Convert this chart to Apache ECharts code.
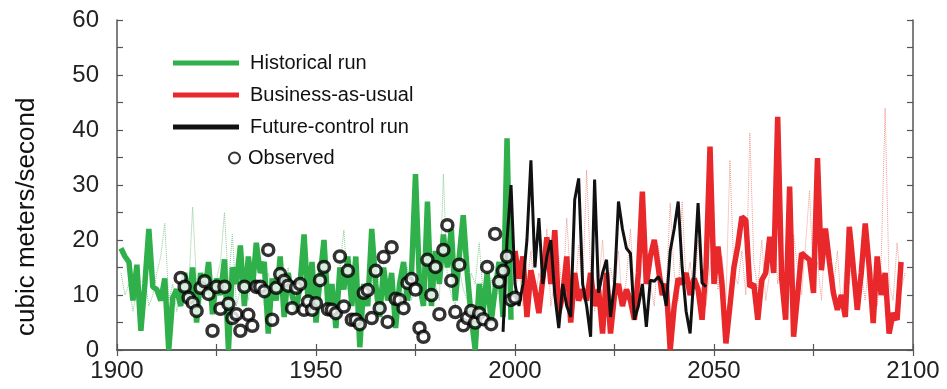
<!DOCTYPE html>
<html>
<head>
<meta charset="utf-8">
<script src="https://cdn.jsdelivr.net/npm/echarts@6/dist/echarts.min.js"></script>
<style>
  html, body { margin: 0; background: #fff; }
  #chart { width: 947px; height: 389px; }
</style>
</head>
<body>
<div id="chart"></div>
<script>
// historical run, one value a year from 1901
const histStart = 1901;
const histRun = [18.5, 17, 16, 9, 15.5, 3.5, 12, 22, 11.5, 11, 9, 13, 0, 9.5, 11, 8, 14, 9, 15, 5,
  14, 10, 16, 6.5, 13, 10, 16.5, 0, 15, 12, 19, 8, 17, 11, 19.5, 14, 16, 3, 13, 9,
  17, 6, 14, 10, 7, 12, 21, 9, 16, 5, 13, 20, 8, 12, 4, 15, 11, 17, 8, 17,
  0.5, 12, 8, 22, 12, 6, 15, 9, 14, 4, 12, 16, 9, 14, 32, 12, 8, 27, 8, 18,
  12, 21, 15, 22, 9, 17, 24.5, 14, 6, 0, 12, 7, 14, 5, 11, 16, 6, 38.5, 5.5];
// second historical member (thin dotted)
const histRun2 = [14, 10, 12, 7, 11, 9, 13, 8, 10, 14, 17, 23, 9, 12, 7, 10, 13, 11, 26, 12,
  8, 14, 10, 9, 13, 16, 25, 12, 21, 8, 11, 13, 9, 15, 10, 12, 8, 14, 11, 9,
  13, 10, 15, 8, 12, 9, 16, 11, 7, 13, 10, 14, 9, 12, 8, 15, 21.8, 11, 9, 13,
  7, 12, 10, 14, 8, 16, 11, 9, 13, 7, 12, 10, 15, 9, 13, 11, 8, 14, 10, 12,
  9, 32, 13, 10, 8, 15, 11, 9, 14, 12, 19.5, 10, 8, 13, 9, 11, 15, 10, 8];

// business-as-usual, from 2000
const bauStart = 2000;
const bauRun = [18, 13, 17, 6, 14.5, 11, 6.7, 13, 20.5, 12, 21.8, 6.7, 10, 17, 5, 14, 9, 11, 9, 14,
  8, 11, 3, 14, 3, 10, 12, 8, 11, 9, 5.5, 14, 28.8, 12, 17, 20, 15, 10, 12, 0,
  8, 13, 12, 14, 10, 13, 11, 5.5, 15, 37, 12, 18.8, 12, 1.2, 8, 15, 19, 24.2, 23.6, 11.5,
  12, 5.5, 12.7, 14, 20.6, 14, 42.4, 13, 5.5, 29.7, 2.4, 10, 17.6, 17, 16.4, 10.4, 34.9, 14.5, 22.1, 16,
  10.4, 7.3, 10, 6, 22.4, 15, 7.3, 14, 23, 15, 4.9, 17, 10, 14, 3, 6.7, 5.5, 16];
const bauRun2 = [10, 15, 8, 12, 18, 9, 14, 11, 22, 8, 13, 17, 10, 24, 12, 9, 19, 11, 32.7, 14,
  7, 12, 20, 9, 15, 11, 18, 8, 13, 22, 10, 14, 9, 16, 12, 8, 19, 13, 11, 26.7,
  14, 9, 27, 12, 16, 10, 20, 13, 8, 15, 22, 11, 17, 9, 34.5, 14, 12, 18, 10, 39.5,
  16, 11, 20, 9, 14, 24, 12, 17, 8, 13, 21, 15, 10, 19, 29, 12, 16, 9, 22, 14,
  11, 18, 8, 15, 12, 20, 10, 14, 9, 17, 13, 8, 16, 44, 12, 9, 19.5, 11, 14];

// future-control run, from 1997
const ctrlStart = 1997;
const ctrlRun = [3.3, 20, 30, 12, 8, 12, 20, 34.5, 15, 24, 12, 17, 20, 10, 4, 12, 8, 6, 27.3, 31.2,
  12, 8, 2.4, 31, 10.4, 14, 16.4, 6, 12, 27, 22, 18.5, 17.6, 5.5, 8, 12, 4.2, 12.7, 12.5, 13.3,
  12, 8, 18, 22, 27, 15, 7, 3, 14, 26.7, 12.2, 11.5];

// observed, from 1916
const obsStart = 1916;
const observed = [13.1, 11.5, 9.5, 8.6, 7.1, 11.3, 12.5, 10.2, 3.5, 11.5, 7.5, 11.5, 8.4, 5.8, 6.5, 3.5, 11.5, 6.4, 4.4, 11.5,
  11.5, 10.7, 18.2, 5.5, 11.3, 13.8, 12.6, 11.7, 7.6, 11.3, 12, 7.3, 8.8, 7.3, 8.5, 12.7, 15.1, 7.4, 7.3, 6.7,
  17, 7.9, 14.4, 5.5, 5.5, 4.7, 10.4, 10.9, 5.8, 14.4, 7.6, 16.9, 5.1, 18.7, 9.3, 9.1, 7.6, 12.2, 12.9, 11,
  4, 2.4, 16.4, 10, 15.1, 6.5, 18.2, 22.7, 12.6, 6.9, 15.5, 4.5, 5.8, 7.1, 5, 6.7, 5.6, 15.1, 4.7, 21.1,
  12.4, 14.4, 17, 9.1, 9.5];

const GREEN = '#2fb04a';
const RED = '#e8282b';
const FONT = 'Liberation Sans';

function pairs(start, vals) {
  return vals.map((v, i) => [start + i, v]);
}

const chart = echarts.init(document.getElementById('chart'));

const tickStyle = { inside: true, length: 6, lineStyle: { color: '#555', width: 1.2 } };
const lineStyle = { lineStyle: { color: '#555', width: 1.5 } };

const option = {
  animation: false,
  backgroundColor: '#fff',
  grid: { left: 117, right: 34, top: 20, bottom: 39 },
  graphic: [
    {
      type: 'text', x: 14, y: 336, rotation: Math.PI / 2,
      style: {
        text: 'cubic meters/second', fill: '#111',
        font: '26px "Liberation Sans"', textAlign: 'left', textVerticalAlign: 'top'
      }
    }
  ],
  legend: [
    {
      left: 168,
      top: 48,
      orient: 'vertical',
      itemWidth: 66,
      itemHeight: 5,
      itemGap: 12,
      data: [
        { name: 'Historical run', icon: 'rect' },
        { name: 'Business-as-usual', icon: 'rect' },
        { name: 'Future-control run', icon: 'rect' }
      ],
      textStyle: { fontFamily: FONT, fontSize: 20, color: '#111', padding: [0, 0, 0, 6] }
    },
    {
      left: 223,
      top: 143,
      itemWidth: 11,
      itemHeight: 11,
      data: ['Observed'],
      textStyle: { fontFamily: FONT, fontSize: 20, color: '#111', padding: [0, 0, 0, 3] }
    }
  ],
  xAxis: [
    {
      type: 'value', min: 1900, max: 2100, interval: 25,
      axisLine: lineStyle, axisTick: tickStyle, splitLine: { show: false },
      axisLabel: {
        fontFamily: FONT, fontSize: 24, color: '#222', margin: 9,
        formatter: v => (v % 50 === 0 ? String(v) : '')
      }
    },
    {
      type: 'value', position: 'top', min: 1900, max: 2100, interval: 25,
      axisLine: lineStyle, axisTick: tickStyle, axisLabel: { show: false }, splitLine: { show: false }
    }
  ],
  yAxis: [
    {
      type: 'value', min: 0, max: 60, interval: 5,
      axisLine: lineStyle, axisTick: tickStyle, splitLine: { show: false },
      axisLabel: {
        fontFamily: FONT, fontSize: 24, color: '#222', margin: 18,
        formatter: v => (v % 10 === 0 ? String(v) : '')
      }
    },
    {
      type: 'value', position: 'right', min: 0, max: 60, interval: 5,
      axisLine: lineStyle, axisTick: tickStyle, axisLabel: { show: false }, splitLine: { show: false }
    }
  ],
  series: [
    {
      name: 'hist2', type: 'line', data: pairs(histStart, histRun2), symbol: 'none',
      lineStyle: { color: '#84c994', width: 1, type: 'dotted' }, z: 1
    },
    {
      name: 'bau2', type: 'line', data: pairs(bauStart, bauRun2), symbol: 'none',
      lineStyle: { color: '#f09890', width: 1, type: 'dotted' }, z: 1
    },
    {
      name: 'Historical run', type: 'line', data: pairs(histStart, histRun), symbol: 'none',
      color: GREEN, lineStyle: { color: GREEN, width: 5.5 }, z: 2
    },
    {
      name: 'Business-as-usual', type: 'line', data: pairs(bauStart, bauRun), symbol: 'none',
      color: RED, lineStyle: { color: RED, width: 5.5 }, z: 2
    },
    {
      name: 'Future-control run', type: 'line', data: pairs(ctrlStart, ctrlRun), symbol: 'none',
      color: '#111', lineStyle: { color: '#111', width: 3 }, z: 3
    },
    {
      name: 'Observed', type: 'scatter', data: pairs(obsStart, observed),
      symbol: 'circle', symbolSize: 11,
      itemStyle: { color: '#fff', borderColor: '#000', borderWidth: 3.5 }, z: 4
    }
  ]
};

chart.setOption(option);
</script>
</body>
</html>
